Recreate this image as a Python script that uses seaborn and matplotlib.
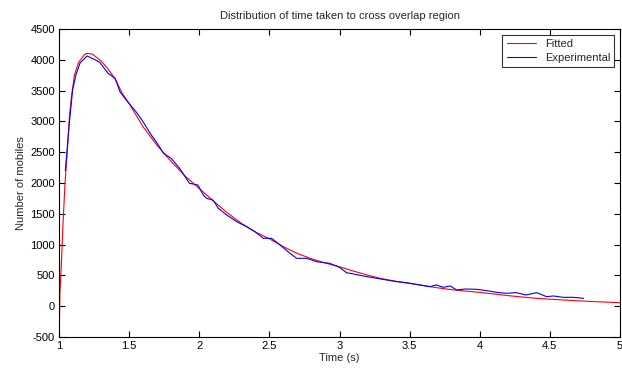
import matplotlib
matplotlib.use("Agg")
import matplotlib.pyplot as plt
import seaborn as sns
import pandas as pd

# Fitted curve
fit_t = [1.003, 1.006, 1.014, 1.030, 1.043, 1.060, 1.075, 1.090, 1.110, 1.140, 1.180, 1.200,
         1.240, 1.300, 1.350, 1.400, 1.450, 1.500, 1.600, 1.700, 1.800, 1.900, 2.000,
         2.100, 2.200, 2.300, 2.400, 2.500, 2.600, 2.700, 2.800, 2.900,
         3.000, 3.100, 3.200, 3.300, 3.400, 3.500, 3.600, 3.700, 3.800, 3.900, 4.000, 4.200,
         4.400, 4.600, 4.800, 5.000]
fit_v = [-300, 200, 540, 1400, 2000, 2540, 3100, 3420, 3750, 3960, 4080, 4105,
         4090, 3980, 3850, 3690, 3460, 3290, 2910, 2610, 2350, 2110, 1910,
         1710, 1515, 1345, 1205, 1095, 966, 855, 770, 700,
         640, 570, 505, 448, 405, 370, 335, 298, 268, 245, 225, 172,
         128, 100, 76, 57]

exp_t = [1.045, 1.060, 1.071, 1.090, 1.097, 1.120, 1.150, 1.200, 1.250, 1.290, 1.350, 1.400,
         1.435, 1.480, 1.550, 1.600, 1.650, 1.700, 1.745, 1.800, 1.860, 1.930, 1.990, 2.030,
         2.053, 2.100, 2.136, 2.195, 2.267, 2.338, 2.397, 2.457, 2.516, 2.576, 2.647, 2.695,
         2.766, 2.837, 2.930, 3.000, 3.050, 3.100, 3.170, 3.265, 3.337, 3.410, 3.480, 3.574,
         3.645, 3.690, 3.740, 3.790, 3.835, 3.895, 3.980, 4.050, 4.120, 4.190, 4.260, 4.330,
         4.405, 4.477, 4.525, 4.595, 4.667, 4.740]
exp_v = [2200, 2600, 2909, 3347, 3510, 3750, 3948, 4062, 4010, 3960, 3781, 3700,
         3480, 3345, 3155, 2992, 2807, 2645, 2482, 2400, 2238, 1995, 1968, 1800,
         1751, 1720, 1589, 1481, 1372, 1291, 1210, 1102, 1102, 994, 858, 777,
         777, 722, 696, 631, 544, 523, 490, 453, 425, 398, 381, 344,
         317, 344, 307, 328, 263, 279, 274, 252, 225, 209, 220, 182,
         220, 155, 166, 144, 144, 128]

x_ticks = [1, 1.5, 2, 2.5, 3, 3.5, 4, 4.5, 5]
x_tick_labels = ["1", "1.5", "2", "2.5", "3", "3.5", "4", "4.5", "5"]
y_ticks = list(range(-500, 4501, 500))

sns.set_style("ticks")
plt.rcParams['font.family'] = ['Liberation Sans', 'DejaVu Sans']
plt.rcParams['font.size'] = 8
plt.rcParams['axes.unicode_minus'] = False

df_fit = pd.DataFrame({"t": fit_t, "v": fit_v, "s": "Fitted"})
df_exp = pd.DataFrame({"t": exp_t, "v": exp_v, "s": "Experimental"})

fig = plt.figure(figsize=(6.22, 3.68), dpi=100, facecolor="white")
ax = fig.add_axes([59/622, 31/368, 561/622, 308/368])

sns.lineplot(data=df_fit, x="t", y="v", color="#ff0000", linewidth=0.8, ax=ax,
             label="Fitted", estimator=None, sort=False)
sns.lineplot(data=df_exp, x="t", y="v", color="#0000ff", linewidth=0.8, ax=ax,
             label="Experimental", estimator=None, sort=False)

ax.set_xlim(1, 5)
ax.set_ylim(-500, 4500)
ax.set_xticks(x_ticks)
ax.set_xticklabels(x_tick_labels)
ax.set_yticks(y_ticks)
ax.tick_params(direction="in", length=4, width=0.8, top=True, right=True,
               labelsize=8, colors="black", pad=3)
for sp in ax.spines.values():
    sp.set_visible(True)
    sp.set_linewidth(0.8)
    sp.set_color("black")

ax.set_title("Distribution of time taken to cross overlap region", fontsize=8, pad=7)
ax.set_xlabel("Time (s)", fontsize=8, labelpad=1)
ax.set_ylabel("Number of mobiles", fontsize=8, labelpad=3)

leg = ax.legend(loc="upper right", fontsize=8, frameon=True, fancybox=False,
                edgecolor="black", handlelength=2.6, borderpad=0.4, labelspacing=0.35,
                borderaxespad=0.5, handletextpad=0.8)
leg.get_frame().set_linewidth(0.8)

fig.savefig("out.png", dpi=100, facecolor="white")
